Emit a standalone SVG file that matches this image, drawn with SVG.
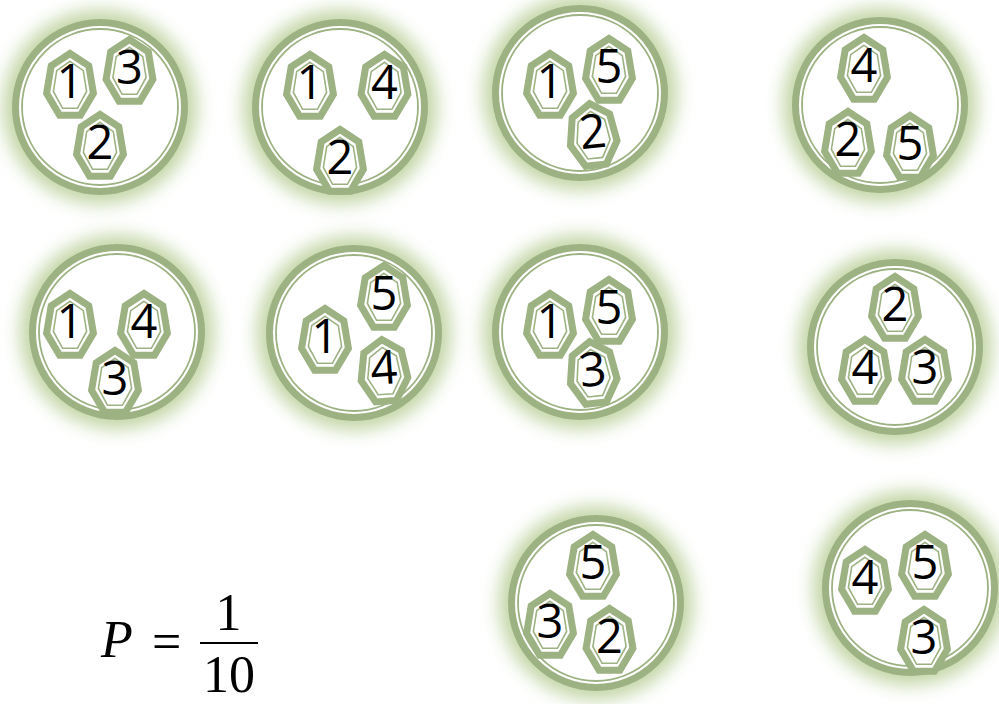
<svg xmlns="http://www.w3.org/2000/svg" xmlns:xlink="http://www.w3.org/1999/xlink" width="999" height="704" viewBox="0 0 999 704">
<defs>
<filter id="blur" x="-50%" y="-50%" width="200%" height="200%"><feGaussianBlur stdDeviation="9"/></filter>
<path id="hO" d="M0,-32.5 L18.8,-20.2 L23.4,7.2 L10.4,29.3 L-10.4,29.3 L-23.4,7.2 L-18.8,-20.2 Z"/>
<path id="hI" d="M0,-24.7 L13.3,-15.4 L16.6,5.5 L7.4,22.3 L-7.4,22.3 L-16.6,5.5 L-13.3,-15.4 Z"/>
<g id="bowl">
<circle r="97" class="glow" filter="url(#blur)"/>
<circle r="84.5" class="rim"/>
<circle r="78" class="inner"/>
</g>
</defs>
<style>
.glow{fill:#c2d5a5}
.rim{fill:#ffffff;stroke:#9db282;stroke-width:7}
.inner{fill:none;stroke:#9db282;stroke-width:1.8}
.ho{fill:#ffffff;stroke:#9db282;stroke-width:7;stroke-linejoin:miter}
.hi{fill:none;stroke:#9db282;stroke-width:1.6}
.num{font-family:"Open Sans","DejaVu Sans",sans-serif;font-size:47px;fill:#000000;text-anchor:middle}
</style>
<rect width="999" height="704" fill="#ffffff"/>

<g id="set1">
<use xlink:href="#bowl" x="100" y="107"/>
<g transform="translate(70,86)"><use xlink:href="#hO" class="ho"/><use xlink:href="#hI" class="hi"/><text class="num" y="12">1</text></g>
<g transform="translate(129.5,72)"><use xlink:href="#hO" class="ho"/><use xlink:href="#hI" class="hi"/><text class="num" y="12">3</text></g>
<g transform="translate(100,147)"><use xlink:href="#hO" class="ho"/><use xlink:href="#hI" class="hi"/><text class="num" y="12">2</text></g>
</g>

<g id="set2">
<use xlink:href="#bowl" x="340" y="107"/>
<g transform="translate(310,87)"><use xlink:href="#hO" class="ho"/><use xlink:href="#hI" class="hi"/><text class="num" y="12">1</text></g>
<g transform="translate(384.5,87)"><use xlink:href="#hO" class="ho"/><use xlink:href="#hI" class="hi"/><text class="num" y="12">4</text></g>
<g transform="translate(340,162)"><use xlink:href="#hO" class="ho"/><use xlink:href="#hI" class="hi"/><text class="num" y="12">2</text></g>
</g>

<g id="set3">
<use xlink:href="#bowl" x="580" y="93"/>
<g transform="translate(550,86)"><use xlink:href="#hO" class="ho"/><use xlink:href="#hI" class="hi"/><text class="num" y="12">1</text></g>
<g transform="translate(609,71)"><use xlink:href="#hO" class="ho"/><use xlink:href="#hI" class="hi"/><text class="num" y="12">5</text></g>
<g transform="translate(593,136) rotate(-6)"><use xlink:href="#hO" class="ho"/><use xlink:href="#hI" class="hi"/><text class="num" y="12">2</text></g>
</g>

<g id="set4">
<use xlink:href="#bowl" x="880" y="105"/>
<g transform="translate(864,70)"><use xlink:href="#hO" class="ho"/><use xlink:href="#hI" class="hi"/><text class="num" y="12">4</text></g>
<g transform="translate(848,144)"><use xlink:href="#hO" class="ho"/><use xlink:href="#hI" class="hi"/><text class="num" y="12">2</text></g>
<g transform="translate(910,148)"><use xlink:href="#hO" class="ho"/><use xlink:href="#hI" class="hi"/><text class="num" y="12">5</text></g>
</g>

<g id="set5">
<use xlink:href="#bowl" x="117" y="332"/>
<g transform="translate(70,326)"><use xlink:href="#hO" class="ho"/><use xlink:href="#hI" class="hi"/><text class="num" y="12">1</text></g>
<g transform="translate(144,326)"><use xlink:href="#hO" class="ho"/><use xlink:href="#hI" class="hi"/><text class="num" y="12">4</text></g>
<g transform="translate(115,383)"><use xlink:href="#hO" class="ho"/><use xlink:href="#hI" class="hi"/><text class="num" y="12">3</text></g>
</g>

<g id="set6">
<use xlink:href="#bowl" x="354" y="333"/>
<g transform="translate(325,341)"><use xlink:href="#hO" class="ho"/><use xlink:href="#hI" class="hi"/><text class="num" y="12">1</text></g>
<g transform="translate(384,298)"><use xlink:href="#hO" class="ho"/><use xlink:href="#hI" class="hi"/><text class="num" y="12">5</text></g>
<g transform="translate(384,372) rotate(-4)"><use xlink:href="#hO" class="ho"/><use xlink:href="#hI" class="hi"/><text class="num" y="12">4</text></g>
</g>

<g id="set7">
<use xlink:href="#bowl" x="580" y="332"/>
<g transform="translate(550,326)"><use xlink:href="#hO" class="ho"/><use xlink:href="#hI" class="hi"/><text class="num" y="12">1</text></g>
<g transform="translate(609,312)"><use xlink:href="#hO" class="ho"/><use xlink:href="#hI" class="hi"/><text class="num" y="12">5</text></g>
<g transform="translate(593,374) rotate(-6)"><use xlink:href="#hO" class="ho"/><use xlink:href="#hI" class="hi"/><text class="num" y="12">3</text></g>
</g>

<g id="set8">
<use xlink:href="#bowl" x="895" y="347"/>
<g transform="translate(895,309)"><use xlink:href="#hO" class="ho"/><use xlink:href="#hI" class="hi"/><text class="num" y="12">2</text></g>
<g transform="translate(865,372)"><use xlink:href="#hO" class="ho"/><use xlink:href="#hI" class="hi"/><text class="num" y="12">4</text></g>
<g transform="translate(925,372)"><use xlink:href="#hO" class="ho"/><use xlink:href="#hI" class="hi"/><text class="num" y="12">3</text></g>
</g>

<g id="set9">
<use xlink:href="#bowl" x="596" y="603"/>
<g transform="translate(593,567)"><use xlink:href="#hO" class="ho"/><use xlink:href="#hI" class="hi"/><text class="num" y="12">5</text></g>
<g transform="translate(550,626)"><use xlink:href="#hO" class="ho"/><use xlink:href="#hI" class="hi"/><text class="num" y="12">3</text></g>
<g transform="translate(609.5,641)"><use xlink:href="#hO" class="ho"/><use xlink:href="#hI" class="hi"/><text class="num" y="12">2</text></g>
</g>

<g id="set10">
<use xlink:href="#bowl" x="910" y="588"/>
<g transform="translate(865,582)"><use xlink:href="#hO" class="ho"/><use xlink:href="#hI" class="hi"/><text class="num" y="12">4</text></g>
<g transform="translate(925,567)"><use xlink:href="#hO" class="ho"/><use xlink:href="#hI" class="hi"/><text class="num" y="12">5</text></g>
<g transform="translate(924,642)"><use xlink:href="#hO" class="ho"/><use xlink:href="#hI" class="hi"/><text class="num" y="12">3</text></g>
</g>

<g id="formula" font-family="'Liberation Serif', 'DejaVu Serif', serif" font-size="52" fill="#000000">
<text x="101" y="657" font-style="italic">P</text>
<text x="152" y="659">=</text>
<line x1="200" y1="643" x2="258" y2="643" stroke="#000000" stroke-width="2"/>
<text x="228.5" y="630" text-anchor="middle">1</text>
<text x="229" y="692" text-anchor="middle">10</text>
</g>
</svg>
